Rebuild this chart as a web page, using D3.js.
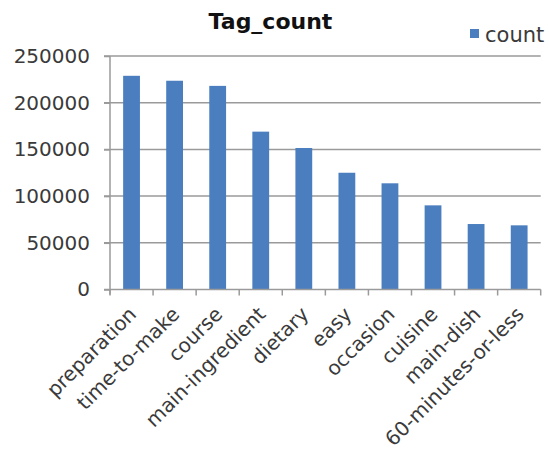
<!DOCTYPE html>
<html>
<head>
<meta charset="utf-8">
<script src="https://cdn.jsdelivr.net/npm/d3@7"></script>
<style>
  html, body { margin: 0; padding: 0; background: #fff; }
  svg { display: block; }
  text { font-family: "DejaVu Sans", sans-serif; }
</style>
</head>
<body>
<svg id="chart" width="549" height="452"></svg>
<script>
// Tag frequencies
const categories = ["preparation", "time-to-make", "course", "main-ingredient", "dietary",
                    "easy", "occasion", "cuisine", "main-dish", "60-minutes-or-less"];
const counts = [228800, 223500, 218000, 169000, 151500, 125000, 113700, 90100, 70100, 68700];
const yTicks = [0, 50000, 100000, 150000, 200000, 250000];
const seriesName = "count";
const chartTitle = "Tag_count";

const svg = d3.select("#chart");
const barColor = "#4a7ebf";
const gridColor = "#9a9a9a";
const textColor = "#3a3a3a";

const plotLeft = 110, plotRight = 540.7, plotTop = 56, plotBottom = 289.5;

const x = d3.scaleBand().domain(categories).range([plotLeft, plotRight])
  .paddingInner(0.61).paddingOuter(0.305);
const y = d3.scaleLinear().domain([0, 250000]).range([plotBottom, plotTop]);

// horizontal gridlines
svg.append("g").selectAll("line").data(yTicks.filter(d => d > 0)).join("line")
  .attr("x1", plotLeft - 6).attr("x2", plotRight)
  .attr("y1", d => y(d)).attr("y2", d => y(d))
  .attr("stroke", gridColor).attr("stroke-width", 1.5);

// bars
svg.append("g").selectAll("rect").data(categories).join("rect")
  .attr("x", d => x(d))
  .attr("width", x.bandwidth())
  .attr("y", (d, i) => y(counts[i]))
  .attr("height", (d, i) => y(0) - y(counts[i]))
  .attr("fill", barColor);

// y axis
const yAxis = svg.append("g").attr("transform", `translate(${plotLeft},0)`)
  .call(d3.axisLeft(y).tickValues(yTicks).tickSize(6).tickPadding(14).tickFormat(d3.format("d")));
yAxis.select(".domain").attr("stroke", gridColor).attr("stroke-width", 1.5)
  .attr("d", `M0,${plotTop}V${plotBottom + 5}`);
yAxis.selectAll(".tick line").attr("stroke", gridColor).attr("stroke-width", 1.5);
yAxis.selectAll(".tick text").attr("font-size", 20).attr("fill", textColor)
  .attr("font-family", "DejaVu Sans, sans-serif");

// x axis with boundary ticks between categories
const xAxis = svg.append("g").attr("transform", `translate(0,${plotBottom})`)
  .call(d3.axisBottom(x).tickSize(0).tickPadding(0));
xAxis.select(".domain").attr("stroke", gridColor).attr("stroke-width", 1.5)
  .attr("d", `M${plotLeft - 6},0H${plotRight}`);
xAxis.selectAll(".tick text")
  .attr("font-size", 20).attr("fill", textColor)
  .attr("font-family", "DejaVu Sans, sans-serif")
  .attr("text-anchor", "end")
  .attr("dy", 0)
  .attr("transform", "translate(6,26) rotate(-45)");
const bounds = d3.range(categories.length + 1).map(i => plotLeft + i * x.step());
xAxis.append("g").selectAll("line").data(bounds).join("line")
  .attr("x1", d => d).attr("x2", d => d).attr("y1", 0).attr("y2", 6)
  .attr("stroke", gridColor).attr("stroke-width", 1.5);

// title
svg.append("text").attr("x", 270.5).attr("y", 29)
  .attr("text-anchor", "middle").attr("font-size", 22).attr("font-weight", "bold")
  .attr("fill", "#111").text(chartTitle);

// legend
const legend = svg.append("g");
legend.append("rect").attr("x", 470).attr("y", 29).attr("width", 9).attr("height", 9)
  .attr("fill", barColor);
legend.append("text").attr("x", 485).attr("y", 42).attr("font-size", 21)
  .attr("fill", textColor).text(seriesName);
</script>
</body>
</html>
